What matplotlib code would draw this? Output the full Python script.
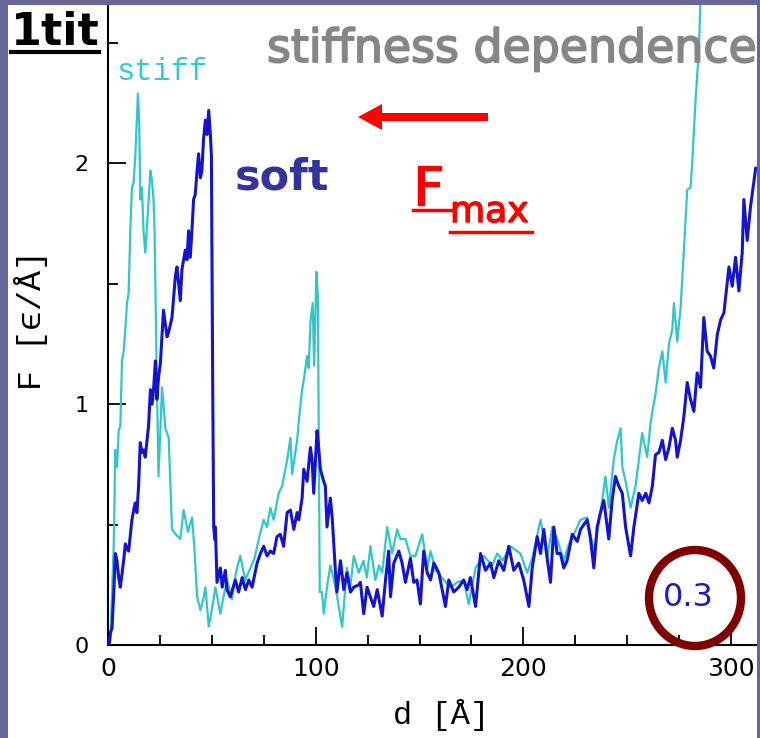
import matplotlib
matplotlib.use("Agg")
import matplotlib.pyplot as plt
import matplotlib.patheffects as pe
from matplotlib.patches import Rectangle, Ellipse, Polygon
from matplotlib.lines import Line2D
from matplotlib.ticker import MultipleLocator

# ---------------- data ----------------
stiff_d = [0, 1.0, 1.8, 2.6, 3.4, 4.2, 5.0, 5.8, 6.6, 7.4,
           8.2, 9.0, 9.8, 10.6, 11.4, 12.2, 13.0, 13.8, 14.3, 14.9,
           15.4, 16.2, 17.0, 17.8, 18.6, 20.3, 21.0, 21.8, 22.3, 23.2,
           24.2, 25.9, 27.5, 29.1, 30.7, 32.5, 34.7, 36.3, 38.4, 40.4,
           41.5, 42.8, 44.4, 46.0, 46.8, 48.4, 50.0, 51.6, 54.0, 55.5,
           57.2, 59.6, 61.5, 63.6, 66.0, 68.5, 70.5, 72.5, 74.9, 76.5,
           78.1, 79.7, 82.1, 83.8, 86.2, 87.8, 88.6, 91.0, 91.8, 93.4,
           94.2, 95.8, 96.6, 97.4, 98.5, 99.2, 100.3, 101.0, 101.9, 103.0,
           103.8, 105.4, 107.0, 108.5, 110.3, 112.7, 115.0, 116.6, 118.3, 120.7,
           123.0, 124.6, 126.3, 128.7, 130.5, 132.0, 134.4, 136.8, 139.2, 140.8,
           143.2, 145.6, 148.0, 151.3, 153.7, 155.3, 157.7, 161.7, 164.9, 168.1,
           171.3, 173.7, 177.0, 181.0, 185.0, 187.4, 190.0, 193.8, 198.6, 201.9,
           204.3, 208.3, 211.5, 213.9, 216.3, 219.5, 222.0, 224.4, 227.6, 230.8,
           234.0, 237.2, 239.6, 241.2, 243.6, 245.3, 246.9, 247.7, 249.3, 251.7,
           254.1, 255.7, 257.3, 259.7, 261.3, 262.2, 263.7, 265.3, 267.0, 268.6,
           270.2, 271.8, 272.6, 274.2, 275.8, 277.4, 279.0, 280.6, 281.4, 283.0,
           284.6, 285.4, 286.5]
stiff_F = [0.0, 0.03, 0.21, 0.41, 0.81, 0.74, 0.89, 0.91, 1.18, 1.22,
           1.31, 1.42, 1.46, 1.72, 1.90, 1.92, 2.03, 2.19, 2.29, 2.17,
           1.85, 1.90, 1.72, 1.63, 1.73, 1.97, 1.93, 1.85, 1.72, 1.20,
           0.70, 1.07, 0.90, 0.86, 0.48, 0.46, 0.44, 0.56, 0.47, 0.53,
           0.40, 0.20, 0.145, 0.20, 0.24, 0.076, 0.15, 0.24, 0.13, 0.20,
           0.27, 0.19, 0.30, 0.37, 0.27, 0.32, 0.36, 0.44, 0.52, 0.49,
           0.57, 0.52, 0.63, 0.66, 0.77, 0.86, 0.71, 0.85, 0.93, 1.06,
           1.10, 1.20, 1.15, 1.34, 1.42, 1.16, 1.55, 1.45, 0.22, 0.22,
           0.13, 0.24, 0.33, 0.28, 0.20, 0.075, 0.32, 0.24, 0.37, 0.30,
           0.35, 0.28, 0.41, 0.27, 0.33, 0.30, 0.49, 0.38, 0.48, 0.44,
           0.44, 0.37, 0.37, 0.46, 0.32, 0.39, 0.31, 0.27, 0.24, 0.26,
           0.27, 0.17, 0.32, 0.37, 0.33, 0.38, 0.35, 0.41, 0.38, 0.30,
           0.36, 0.52, 0.36, 0.49, 0.44, 0.35, 0.42, 0.46, 0.52, 0.53,
           0.39, 0.55, 0.70, 0.57, 0.77, 0.85, 0.90, 0.74, 0.68, 0.57,
           0.66, 0.77, 0.88, 0.78, 0.92, 0.97, 1.04, 1.15, 1.22, 1.09,
           1.25, 1.31, 1.42, 1.26, 1.40, 1.64, 1.89, 1.90, 2.00, 2.26,
           2.47, 2.68, 2.85]

soft_d = [0, 0.6, 1.0, 1.8, 2.6, 3.4, 4.2, 5.0, 5.8, 7.4,
          8.2, 9.0, 9.8, 11.4, 12.2, 13.0, 13.8, 14.6, 15.4, 16.2,
          17.0, 17.8, 19.4, 20.3, 21.1, 21.8, 22.7, 23.4, 24.2, 25.1,
          26.6, 28.3, 29.1, 30.7, 32.3, 33.1, 34.7, 35.5, 37.1, 37.9,
          38.7, 39.5, 40.3, 41.1, 41.9, 42.7, 43.5, 44.4, 45.1, 45.9,
          46.8, 47.6, 48.4, 49.2, 49.7, 50.3, 50.8, 51.3, 51.6, 52.4,
          54.0, 54.9, 56.4, 57.2, 58.8, 61.2, 62.8, 64.5, 66.1, 67.7,
          69.3, 71.7, 73.3, 74.9, 76.5, 78.1, 79.7, 81.3, 82.9, 84.5,
          86.2, 87.8, 89.4, 91.0, 91.8, 93.4, 94.2, 95.8, 96.6, 97.4,
          98.2, 99.0, 100.6, 101.4, 102.2, 103.8, 104.6, 105.4, 107.0, 107.9,
          109.5, 110.2, 111.9, 113.5, 115.0, 116.7, 118.3, 120.7, 121.5, 123.1,
          124.7, 126.3, 127.9, 129.6, 132.0, 133.6, 135.1, 136.0, 137.6, 140.0,
          141.6, 143.2, 145.6, 147.2, 148.8, 150.4, 152.0, 153.7, 155.3, 156.9,
          159.3, 160.9, 162.5, 164.1, 166.5, 168.9, 171.3, 172.9, 174.5, 177.0,
          179.4, 181.8, 184.2, 185.8, 188.2, 190.6, 193.0, 195.4, 197.8, 200.2,
          202.7, 204.3, 206.7, 208.3, 209.9, 211.5, 213.1, 214.7, 216.3, 217.9,
          219.5, 221.1, 223.6, 226.0, 227.6, 230.8, 232.4, 234.0, 235.6, 237.2,
          238.8, 241.2, 242.8, 244.4, 246.0, 247.7, 249.3, 251.7, 253.3, 255.7,
          257.3, 259.0, 260.6, 262.2, 263.7, 265.4, 267.0, 268.6, 270.2, 271.8,
          273.4, 274.2, 275.8, 277.4, 279.0, 280.6, 282.2, 283.8, 285.4, 287.0,
          288.6, 290.2, 291.8, 293.5, 295.1, 296.7, 299.1, 300.7, 302.3, 303.9,
          305.5, 306.3, 307.9, 309.5, 312.0]
soft_F = [0.0, 0.01, 0.05, 0.07, 0.21, 0.38, 0.35, 0.28, 0.24, 0.35,
          0.42, 0.40, 0.39, 0.52, 0.56, 0.59, 0.55, 0.66, 0.84, 0.80,
          0.81, 0.78, 0.91, 1.06, 1.00, 1.06, 1.18, 1.02, 1.11, 1.17,
          1.39, 1.28, 1.30, 1.36, 1.53, 1.57, 1.43, 1.56, 1.64, 1.60,
          1.72, 1.61, 1.72, 1.85, 1.87, 1.96, 2.04, 1.94, 1.97, 2.10,
          2.18, 2.12, 2.22, 2.12, 2.03, 1.10, 0.49, 0.44, 0.49, 0.26,
          0.32, 0.24, 0.31, 0.23, 0.20, 0.27, 0.22, 0.28, 0.23, 0.27,
          0.24, 0.34, 0.38, 0.41, 0.37, 0.39, 0.38, 0.45, 0.46, 0.41,
          0.55, 0.56, 0.48, 0.55, 0.52, 0.61, 0.73, 0.68, 0.75, 0.82,
          0.77, 0.63, 0.89, 0.82, 0.73, 0.68, 0.66, 0.49, 0.61, 0.53,
          0.30, 0.22, 0.35, 0.23, 0.30, 0.22, 0.24, 0.25, 0.26, 0.13,
          0.24, 0.20, 0.16, 0.23, 0.12, 0.27, 0.39, 0.20, 0.34, 0.39,
          0.34, 0.26, 0.36, 0.26, 0.27, 0.17, 0.39, 0.30, 0.27, 0.34,
          0.30, 0.23, 0.16, 0.27, 0.22, 0.24, 0.27, 0.23, 0.28, 0.16,
          0.38, 0.31, 0.34, 0.28, 0.35, 0.31, 0.41, 0.31, 0.34, 0.27,
          0.16, 0.32, 0.45, 0.38, 0.48, 0.36, 0.26, 0.49, 0.38, 0.38,
          0.32, 0.35, 0.46, 0.43, 0.48, 0.52, 0.44, 0.32, 0.49, 0.55,
          0.60, 0.44, 0.60, 0.70, 0.66, 0.63, 0.49, 0.37, 0.49, 0.63,
          0.60, 0.63, 0.59, 0.66, 0.79, 0.80, 0.85, 0.77, 0.82, 0.90,
          0.85, 0.78, 0.85, 0.95, 1.09, 1.02, 0.97, 1.13, 1.07, 1.36,
          1.22, 1.20, 1.15, 1.29, 1.35, 1.38, 1.57, 1.49, 1.61, 1.47,
          1.63, 1.85, 1.68, 1.82, 1.98]

x_major = [0, 100, 200, 300]
y_major = [0, 1, 2]
x_ticklabels = ["0", "100", "200", "300"]
y_ticklabels = ["0", "1", "2"]

# ---------------- figure ----------------
W, H = 760, 738
fig = plt.figure(figsize=(W / 100, H / 100), dpi=100)
fig.patch.set_facecolor("white")


def fx(px):
    return px / W


def fy(py):
    return 1 - py / H


MONO = ["Liberation Mono", "DejaVu Sans Mono"]

ax = fig.add_axes([fx(108.3), fy(645), (757 - 108.3) / W, (645 - 5) / H])
ax.set_xlim(0, (757 - 108.3) / 2.075)
ax.set_ylim(0, (645 - 5) / 240.8)

ax.plot(stiff_d, stiff_F, color="#2ec8c8", lw=1.6, solid_joinstyle="round", zorder=3)
ax.plot(soft_d, soft_F, color="#1414d0", lw=2.2, solid_joinstyle="round", zorder=4)

for s in ["top", "right"]:
    ax.spines[s].set_visible(False)
for s in ["left", "bottom"]:
    ax.spines[s].set_linewidth(1.5)

ax.set_xticks(x_major)
ax.set_xticklabels(x_ticklabels)
ax.set_yticks(y_major)
ax.set_yticklabels(y_ticklabels)
ax.xaxis.set_minor_locator(MultipleLocator(25))
ax.yaxis.set_minor_locator(MultipleLocator(0.5))
ax.tick_params(which="major", direction="in", length=13, width=1.3)
ax.tick_params(which="minor", direction="in", length=7, width=1.3)
ax.tick_params(axis="x", labelsize=18, pad=9)
ax.tick_params(axis="y", labelsize=16, pad=14)

ax.set_xlabel("d [Å]", family=MONO, fontsize=23)
ax.xaxis.set_label_coords(0.513, -0.085)
ax.set_ylabel("F [ϵ/Å]", family=MONO, fontsize=24, va="center")
ax.yaxis.set_label_coords((31 - 108) / 649, (645 - 320) / 640)

# ---------------- annotations ----------------
fig.text(fx(11), fy(45), "1tit", fontsize=32, weight="bold", color="black", va="baseline")
fig.add_artist(Line2D([fx(11), fx(99)], [fy(52), fy(52)], lw=3, color="black"))

grey = "#868686"
fig.text(fx(267), fy(62), "stiffness dependence", fontsize=33, color=grey,
         va="baseline", path_effects=[pe.withStroke(linewidth=1.3, foreground=grey)])
fig.text(fx(117), fy(80), "stiff", family=MONO, fontsize=22, color="#33cccc",
         va="baseline")
fig.text(fx(235), fy(190), "soft", fontsize=31, weight="bold", color="#333399",
         va="baseline")

# red arrow
shaft = [(378, 113), (488, 113), (488, 121), (378, 121)]
head = [(358, 117), (382, 104), (382, 130)]
for pts in (shaft, head):
    fig.add_artist(Polygon([(fx(a), fy(b)) for a, b in pts], closed=True,
                           transform=fig.transFigure, color="red", lw=0))

# F_max
red_fx = [pe.withStroke(linewidth=1.0, foreground="red")]
fig.text(fx(413), fy(205), "F", fontsize=39, color="red", va="baseline", path_effects=red_fx)
fig.text(fx(450), fy(222), "max", fontsize=26, color="red", va="baseline", path_effects=red_fx)
fig.add_artist(Line2D([fx(413), fx(452)], [fy(210), fy(210)], lw=2.5, color="red"))
fig.add_artist(Line2D([fx(450), fx(532)], [fy(232), fy(232)], lw=2.5, color="red"))

# circled 0.3
fig.text(fx(688), fy(598), "0.3", fontsize=23, color="#1a1acc", ha="center", va="center")
fig.add_artist(Ellipse((fx(695), fy(598)), 92 / W, 96 / H, transform=fig.transFigure,
                       fill=False, lw=6, edgecolor="#800000", zorder=10))

# slide frame
frame = "#666699"
for (x0, y0, w, h) in [(0, 0, fx(8), 1), (0, fy(5), 1, 5 / H), (fx(757), 0, 3 / W, 1)]:
    fig.add_artist(Rectangle((x0, y0), w, h, transform=fig.transFigure,
                             color=frame, lw=0, zorder=20))

fig.savefig("out.png", dpi=100)
